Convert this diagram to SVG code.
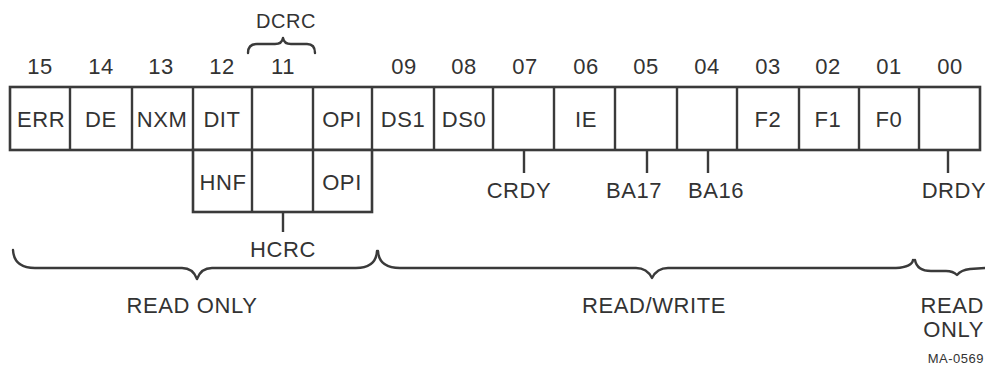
<svg xmlns="http://www.w3.org/2000/svg" width="985" height="370" viewBox="0 0 985 370">
<style>
.box{fill:#fff;stroke:#3a3a3a;stroke-width:2.6}
.ln{stroke:#3a3a3a;stroke-width:2.4;fill:none}
.br{stroke:#3a3a3a;stroke-width:2.4;fill:none;stroke-linecap:round;stroke-linejoin:round}
text{font-family:"Liberation Sans",Arial,sans-serif;fill:#333;font-size:22px;text-anchor:middle;letter-spacing:0.6px}
.sm{font-size:13px;letter-spacing:0.5px}
.lab{font-size:20px}
</style>
<rect width="985" height="370" fill="#fff"/>
<g id="bit-numbers">
<text x="40" y="74">15</text>
<text x="101" y="74">14</text>
<text x="161" y="74">13</text>
<text x="222" y="74">12</text>
<text x="283" y="74">11</text>
<text x="404" y="74">09</text>
<text x="464" y="74">08</text>
<text x="525" y="74">07</text>
<text x="586" y="74">06</text>
<text x="646" y="74">05</text>
<text x="707" y="74">04</text>
<text x="768" y="74">03</text>
<text x="828" y="74">02</text>
<text x="889" y="74">01</text>
<text x="950" y="74">00</text>
</g>
<g id="dcrc">
<path class="br" d="M248,53 Q248,44 257,44 L275,44 Q282,44 283,38 Q284,44 291,44 L307,44 Q315,44 315,53"/>
<text x="286" y="28" class="lab">DCRC</text>
</g>
<g id="register">
<rect class="box" x="10" y="87" width="970" height="63"/>
<rect class="box" x="193" y="150" width="179" height="62"/>
<path class="ln" d="M70,87V150M132,87V150M193,87V150M252,87V212M313,87V212M372,87V150M434,87V150M493,87V150M554,87V150M615,87V150M677,87V150M737,87V150M799,87V150M859,87V150M919,87V150"/>
</g>
<g id="cells">
<text x="41" y="127">ERR</text>
<text x="101" y="127">DE</text>
<text x="162" y="127">NXM</text>
<text x="222" y="127">DIT</text>
<text x="342" y="127">OPI</text>
<text x="403" y="127">DS1</text>
<text x="464" y="127">DS0</text>
<text x="586" y="127">IE</text>
<text x="768" y="127">F2</text>
<text x="828" y="127">F1</text>
<text x="889" y="127">F0</text>
<text x="223" y="190">HNF</text>
<text x="342" y="190">OPI</text>
</g>
<g id="connectors">
<path class="ln" d="M283,212V232M524,150V173M647,150V173M708,150V173M948,150V173"/>
</g>
<g id="signal-labels">
<text x="283" y="257">HCRC</text>
<text x="519" y="198">CRDY</text>
<text x="634" y="198">BA17</text>
<text x="716" y="198">BA16</text>
<text x="954" y="198">DRDY</text>
</g>
<g id="braces">
<path class="br" d="M13,250 Q14,268 35,268 L182,268 Q193,268 197,279 Q201,268 212,268 L356,268 Q376,268 377,251"/>
<path class="br" d="M378,251 Q379,268 400,268 L636,268 Q647,268 652,278 Q657,268 668,268 L896,268 Q912,267 913,260"/>
<path class="br" d="M915,260 Q917,271 931,271 L946,271 Q953,271 957,275 Q961,270 970,269 L985,268"/>
</g>
<g id="access-labels">
<text x="192" y="313">READ ONLY</text>
<text x="654" y="313">READ/WRITE</text>
<text x="984" y="313" style="text-anchor:end">READ</text>
<text x="984" y="337" style="text-anchor:end">ONLY</text>
<text x="984" y="363" class="sm" style="text-anchor:end">MA-0569</text>
</g>
</svg>
